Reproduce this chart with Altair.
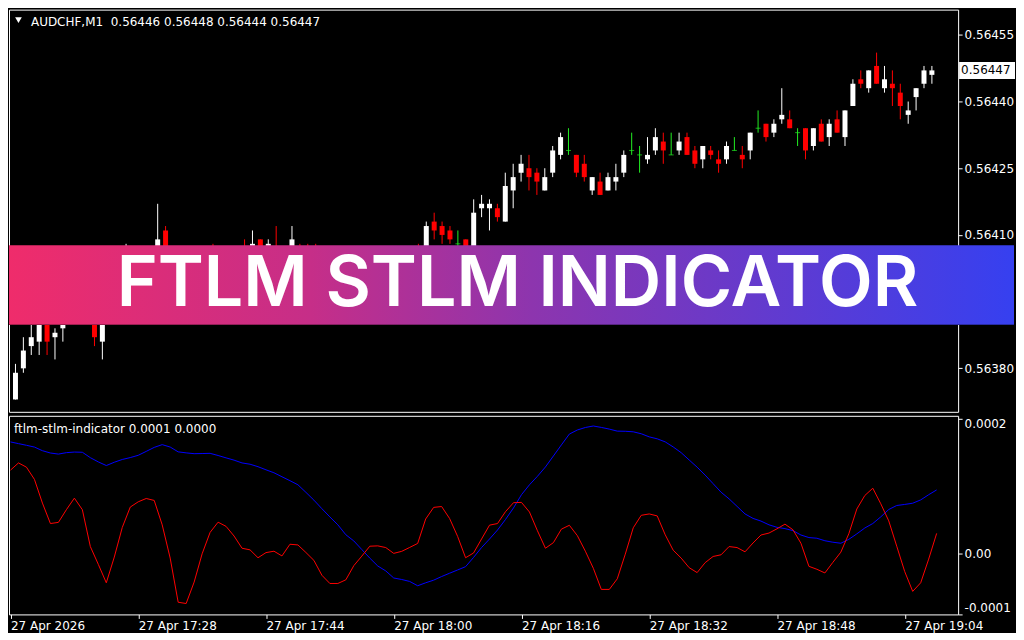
import json
import altair as alt
import pandas as pd

# ---------------- data ----------------
SYMBOL = "AUDCHF,M1"
INDICATOR_NAME = "ftlm-stlm-indicator"
BANNER_TEXT = "FTLM STLM INDICATOR"
TIME_TICKS = [0, 16, 32, 48, 64, 80, 96, 112]
TIME_LABELS = ["27 Apr 2026", "27 Apr 17:28", "27 Apr 17:44", "27 Apr 18:00",
               "27 Apr 18:16", "27 Apr 18:32", "27 Apr 18:48", "27 Apr 19:04"]
PRICE_TICKS = [0.56455, 0.56440, 0.56425, 0.56410, 0.56395, 0.56380]

OPEN = [
    0.56373, 0.56380, 0.56385, 0.56386, 0.56391, 0.56387, 0.56389, 0.56390, 0.56395, 0.56398,
    0.56393, 0.56386, 0.56392, 0.56396, 0.56400, 0.56405, 0.56402, 0.56404, 0.56401, 0.56411,
    0.56404, 0.56399, 0.56396, 0.56398, 0.56402, 0.56405, 0.56402, 0.56405, 0.56403, 0.56404,
    0.56400, 0.56409, 0.56403, 0.56406, 0.56403, 0.56404, 0.56407, 0.56405, 0.56402, 0.56398,
    0.56395, 0.56393, 0.56395, 0.56398, 0.56400, 0.56402, 0.56401, 0.56402, 0.56400, 0.56401,
    0.56403, 0.56405, 0.56403, 0.56413, 0.56412, 0.56411, 0.56408, 0.56409, 0.56405, 0.56416,
    0.56416, 0.56416, 0.56413, 0.56420, 0.56424, 0.56425, 0.56424, 0.56420, 0.56424, 0.56428,
    0.56429, 0.56428, 0.56426, 0.56420, 0.56422, 0.56420, 0.56422, 0.56424, 0.56429, 0.56428,
    0.56427, 0.56429, 0.56431, 0.56428, 0.56429, 0.56432, 0.56429, 0.56427, 0.56429, 0.56427,
    0.56427, 0.56429, 0.56428, 0.56429, 0.56434, 0.56435, 0.56433, 0.56436, 0.56436, 0.56433,
    0.56434, 0.56430, 0.56435, 0.56432, 0.56436, 0.56432, 0.56439, 0.56445, 0.56443, 0.56448,
    0.56443, 0.56444, 0.56442, 0.56437, 0.56441, 0.56444, 0.56446]
HIGH = [
    0.56381, 0.56387, 0.56390, 0.56393, 0.56393, 0.56389, 0.56391, 0.56397, 0.56400, 0.56399,
    0.56394, 0.56394, 0.56398, 0.56402, 0.56408, 0.56406, 0.56406, 0.56405, 0.56417, 0.56412,
    0.56405, 0.56401, 0.56400, 0.56403, 0.56406, 0.56408, 0.56406, 0.56406, 0.56404, 0.56409,
    0.56411, 0.56409, 0.56409, 0.56412, 0.56406, 0.56412, 0.56408, 0.56408, 0.56408, 0.56399,
    0.56397, 0.56396, 0.56399, 0.56401, 0.56403, 0.56404, 0.56404, 0.56403, 0.56402, 0.56404,
    0.56405, 0.56408, 0.56413, 0.56415, 0.56413, 0.56412, 0.56411, 0.56409, 0.56418, 0.56419,
    0.56418, 0.56417, 0.56424, 0.56426, 0.56428, 0.56428, 0.56425, 0.56425, 0.56430, 0.56433,
    0.56434, 0.56428, 0.56428, 0.56423, 0.56424, 0.56424, 0.56426, 0.56429, 0.56433, 0.56430,
    0.56432, 0.56434, 0.56433, 0.56433, 0.56433, 0.56433, 0.56430, 0.56430, 0.56430, 0.56429,
    0.56431, 0.56432, 0.56430, 0.56433, 0.56438, 0.56435, 0.56436, 0.56443, 0.56438, 0.56434,
    0.56434, 0.56434, 0.56436, 0.56436, 0.56438, 0.56438, 0.56445, 0.56447, 0.56447, 0.56451,
    0.56448, 0.56447, 0.56444, 0.56440, 0.56443, 0.56448, 0.56448]
LOW = [
    0.56373, 0.56379, 0.56383, 0.56383, 0.56383, 0.56382, 0.56386, 0.56390, 0.56393, 0.56392,
    0.56385, 0.56382, 0.56391, 0.56394, 0.56398, 0.56400, 0.56400, 0.56399, 0.56400, 0.56402,
    0.56397, 0.56393, 0.56394, 0.56397, 0.56401, 0.56401, 0.56400, 0.56401, 0.56399, 0.56399,
    0.56399, 0.56402, 0.56402, 0.56401, 0.56401, 0.56403, 0.56402, 0.56400, 0.56397, 0.56393,
    0.56391, 0.56391, 0.56394, 0.56396, 0.56399, 0.56399, 0.56400, 0.56399, 0.56398, 0.56400,
    0.56402, 0.56402, 0.56402, 0.56409, 0.56408, 0.56408, 0.56406, 0.56404, 0.56404, 0.56414,
    0.56411, 0.56413, 0.56413, 0.56416, 0.56422, 0.56420, 0.56419, 0.56420, 0.56423, 0.56427,
    0.56428, 0.56423, 0.56422, 0.56419, 0.56419, 0.56420, 0.56420, 0.56423, 0.56428, 0.56424,
    0.56426, 0.56428, 0.56426, 0.56428, 0.56428, 0.56428, 0.56425, 0.56425, 0.56427, 0.56424,
    0.56426, 0.56429, 0.56425, 0.56427, 0.56433, 0.56431, 0.56432, 0.56435, 0.56434, 0.56430,
    0.56427, 0.56429, 0.56431, 0.56430, 0.56433, 0.56430, 0.56439, 0.56443, 0.56442, 0.56444,
    0.56442, 0.56439, 0.56436, 0.56435, 0.56438, 0.56443, 0.56444]
CLOSE = [
    0.56379, 0.56384, 0.56387, 0.56391, 0.56386, 0.56388, 0.56390, 0.56395, 0.56398, 0.56394,
    0.56387, 0.56392, 0.56396, 0.56400, 0.56405, 0.56402, 0.56404, 0.56401, 0.56409, 0.56404,
    0.56399, 0.56396, 0.56398, 0.56402, 0.56404, 0.56402, 0.56405, 0.56403, 0.56401, 0.56400,
    0.56408, 0.56403, 0.56408, 0.56403, 0.56404, 0.56409, 0.56404, 0.56401, 0.56398, 0.56395,
    0.56393, 0.56395, 0.56398, 0.56400, 0.56402, 0.56401, 0.56402, 0.56400, 0.56401, 0.56403,
    0.56404, 0.56403, 0.56412, 0.56411, 0.56410, 0.56409, 0.56408, 0.56405, 0.56415, 0.56417,
    0.56417, 0.56414, 0.56421, 0.56423, 0.56426, 0.56423, 0.56422, 0.56423, 0.56429, 0.56432,
    0.56429, 0.56424, 0.56423, 0.56423, 0.56419, 0.56423, 0.56423, 0.56428, 0.56429, 0.56428,
    0.56428, 0.56432, 0.56429, 0.56428, 0.56431, 0.56428, 0.56426, 0.56430, 0.56428, 0.56426,
    0.56430, 0.56429, 0.56427, 0.56433, 0.56434, 0.56432, 0.56435, 0.56437, 0.56434, 0.56433,
    0.56429, 0.56434, 0.56431, 0.56435, 0.56433, 0.56438, 0.56444, 0.56444, 0.56447, 0.56444,
    0.56445, 0.56443, 0.56439, 0.56438, 0.56443, 0.56447, 0.56447]

BLUE = [
    1.658e-4, 1.633e-4, 1.608e-4, 1.582e-4, 1.528e-4, 1.494e-4, 1.478e-4, 1.499e-4, 1.508e-4, 1.505e-4,
    1.425e-4, 1.362e-4, 1.308e-4, 1.357e-4, 1.398e-4, 1.426e-4, 1.460e-4, 1.518e-4, 1.577e-4, 1.618e-4,
    1.582e-4, 1.511e-4, 1.496e-4, 1.484e-4, 1.486e-4, 1.489e-4, 1.457e-4, 1.422e-4, 1.388e-4, 1.347e-4,
    1.328e-4, 1.291e-4, 1.245e-4, 1.201e-4, 1.142e-4, 1.084e-4, 1.023e-4, 0.911e-4, 0.796e-4, 0.669e-4,
    0.547e-4, 0.430e-4, 0.283e-4, 0.191e-4, 0.064e-4, -0.063e-4, -0.180e-4, -0.253e-4, -0.358e-4, -0.380e-4,
    -0.409e-4, -0.473e-4, -0.429e-4, -0.390e-4, -0.336e-4, -0.287e-4, -0.239e-4, -0.190e-4, -0.053e-4, 0.093e-4,
    0.220e-4, 0.353e-4, 0.509e-4, 0.680e-4, 0.876e-4, 1.023e-4, 1.149e-4, 1.287e-4, 1.450e-4, 1.614e-4,
    1.775e-4, 1.835e-4, 1.872e-4, 1.894e-4, 1.873e-4, 1.848e-4, 1.818e-4, 1.816e-4, 1.808e-4, 1.779e-4,
    1.733e-4, 1.704e-4, 1.659e-4, 1.584e-4, 1.499e-4, 1.391e-4, 1.284e-4, 1.167e-4, 1.040e-4, 0.913e-4,
    0.815e-4, 0.703e-4, 0.591e-4, 0.525e-4, 0.485e-4, 0.430e-4, 0.393e-4, 0.374e-4, 0.344e-4, 0.279e-4,
    0.241e-4, 0.231e-4, 0.194e-4, 0.172e-4, 0.157e-4, 0.215e-4, 0.296e-4, 0.383e-4, 0.449e-4, 0.548e-4,
    0.657e-4, 0.716e-4, 0.732e-4, 0.750e-4, 0.799e-4, 0.876e-4, 0.947e-4]
RED = [
    1.240e-4, 1.347e-4, 1.284e-4, 1.103e-4, 0.752e-4, 0.449e-4, 0.466e-4, 0.654e-4, 0.825e-4, 0.654e-4,
    0.108e-4, -0.156e-4, -0.429e-4, -0.048e-4, 0.391e-4, 0.693e-4, 0.771e-4, 0.820e-4, 0.791e-4, 0.430e-4,
    -0.063e-4, -0.717e-4, -0.736e-4, -0.419e-4, 0.000e-4, 0.318e-4, 0.469e-4, 0.407e-4, 0.264e-4, 0.083e-4,
    0.059e-4, -0.058e-4, 0.018e-4, 0.039e-4, -0.031e-4, 0.142e-4, 0.132e-4, 0.020e-4, -0.097e-4, -0.317e-4,
    -0.439e-4, -0.439e-4, -0.385e-4, -0.175e-4, -0.034e-4, 0.113e-4, 0.118e-4, 0.093e-4, 0.007e-4, 0.037e-4,
    0.095e-4, 0.154e-4, 0.516e-4, 0.688e-4, 0.701e-4, 0.523e-4, 0.259e-4, -0.058e-4, 0.013e-4, 0.220e-4,
    0.425e-4, 0.449e-4, 0.625e-4, 0.758e-4, 0.762e-4, 0.620e-4, 0.342e-4, 0.083e-4, 0.166e-4, 0.366e-4,
    0.423e-4, 0.269e-4, 0.039e-4, -0.214e-4, -0.527e-4, -0.527e-4, -0.370e-4, -0.005e-4, 0.386e-4, 0.571e-4,
    0.591e-4, 0.562e-4, 0.283e-4, 0.054e-4, -0.063e-4, -0.205e-4, -0.278e-4, -0.131e-4, -0.039e-4, -0.014e-4,
    0.108e-4, 0.093e-4, 0.030e-4, 0.161e-4, 0.279e-4, 0.308e-4, 0.371e-4, 0.440e-4, 0.357e-4, 0.157e-4,
    -0.185e-4, -0.229e-4, -0.283e-4, -0.126e-4, 0.025e-4, 0.298e-4, 0.664e-4, 0.864e-4, 0.972e-4, 0.742e-4,
    0.488e-4, 0.113e-4, -0.263e-4, -0.556e-4, -0.429e-4, -0.078e-4, 0.303e-4]

# ---------------- layout / style ----------------
W = 951
H_MAIN = 403
H_IND = 199
X_DOMAIN = [-0.1875, 118.6875]
P_DOMAIN = [0.5637022, 0.5646067]
IND_DOMAIN = [-0.8975e-4, 2.045e-4]
IND_TICKS = [-0.8975e-4, 0.0, 2.0e-4]
FONT = "DejaVu Sans"

n = len(OPEN)
df = pd.DataFrame({"i": list(range(n)), "open": OPEN, "high": HIGH,
                   "low": LOW, "close": CLOSE})
df["dir"] = ["up" if c > o else ("down" if c < o else "doji")
             for o, c in zip(OPEN, CLOSE)]

ind = pd.DataFrame({"i": list(range(n)), "blue": BLUE, "red": RED})

xs = alt.Scale(domain=X_DOMAIN, nice=False, zero=False)
ys = alt.Scale(domain=P_DOMAIN, nice=False, zero=False)
col = alt.Color("dir:N", legend=None,
                scale=alt.Scale(domain=["up", "down", "doji"],
                                range=["#ffffff", "#ff0000", "#22ee22"]))


def price_axis():
    return alt.Axis(orient="right", values=PRICE_TICKS, format=".5f",
                    title=None, grid=False, domain=False, tickSize=4,
                    tickColor="white", labelColor="white", labelFont=FONT,
                    labelFontSize=12, labelPadding=2, labelFlush=False)


base = alt.Chart(df)
wicks = base.mark_rule(strokeWidth=1).encode(
    x=alt.X("i:Q", scale=xs, axis=None),
    y=alt.Y("low:Q", scale=ys, axis=price_axis()),
    y2="high:Q",
    color=col,
)
bodies = base.transform_filter("datum.open != datum.close").mark_bar(size=5).encode(
    x=alt.X("i:Q", scale=xs, axis=None),
    y=alt.Y("open:Q", scale=ys, axis=price_axis()),
    y2="close:Q",
    color=col,
)
dojis = base.transform_filter("datum.open == datum.close").mark_tick(
    orient="horizontal", size=5, thickness=1).encode(
    x=alt.X("i:Q", scale=xs, axis=None),
    y=alt.Y("open:Q", scale=ys, axis=price_axis()),
    color=col,
)

last = pd.DataFrame({"price": [CLOSE[-1]], "label": [f"{CLOSE[-1]:.5f}"]})
box = alt.Chart(last).mark_point(
    shape="M-1,-0.3036L1,-0.3036L1,0.3036L-1,0.3036Z", size=3136,
    filled=True, opacity=1, color="white", strokeWidth=0).encode(
    x=alt.value(980), y=alt.Y("price:Q", scale=ys, axis=price_axis()))
box_txt = alt.Chart(last).mark_text(
    align="left", baseline="middle", font=FONT, fontSize=12, color="black").encode(
    x=alt.value(954), y=alt.Y("price:Q", scale=ys, axis=price_axis()), text="label:N")

one = pd.DataFrame({"k": [0]})
header_tri = alt.Chart(one).mark_point(
    shape="triangle-down", filled=True, color="white", opacity=1, size=45).encode(
    x=alt.value(9.5), y=alt.value(10.5))
header = alt.Chart(one).mark_text(
    align="left", baseline="middle", font=FONT, fontSize=12, color="white").encode(
    x=alt.value(22), y=alt.value(12),
    text=alt.value(f"{SYMBOL}\u00a0\u00a0{OPEN[-1]:.5f} {HIGH[-1]:.5f} "
                   f"{LOW[-1]:.5f} {CLOSE[-1]:.5f}"))

banner = alt.Chart(one).mark_rect(
    color=alt.LinearGradient(
        gradient="linear", x1=0, x2=1, y1=0, y2=0,
        stops=[alt.GradientStop(color="#ef2c6b", offset=0),
               alt.GradientStop(color="#c62e88", offset=0.3),
               alt.GradientStop(color="#8d35ae", offset=0.52),
               alt.GradientStop(color="#3640f0", offset=1)])).encode(
    x=alt.value(0), x2=alt.value(1007), y=alt.value(236), y2=alt.value(316))
banner_edge = alt.Chart(one).mark_rect(color="black", opacity=0.3).encode(
    x=alt.value(0), x2=alt.value(1007), y=alt.value(315), y2=alt.value(316))
banner_txt = alt.Chart(one).mark_text(
    align="center", baseline="alphabetic", font="Inter", fontWeight=600,
    fontSize=70, color="white").encode(
    x=alt.value(509.5), y=alt.value(297), text=alt.value(BANNER_TEXT))

main = alt.layer(wicks, bodies, dojis, box, box_txt, header_tri, header,
                 banner, banner_edge, banner_txt).properties(width=W, height=H_MAIN)

# ---------------- indicator panel ----------------
ixs = alt.Scale(domain=X_DOMAIN, nice=False, zero=False)
iys = alt.Scale(domain=IND_DOMAIN, nice=False, zero=False)
label_expr = f"{json.dumps(TIME_LABELS)}[indexof({json.dumps(TIME_TICKS)}, datum.value)]"


def x_axis():
    return alt.Axis(values=TIME_TICKS, labelExpr=label_expr, title=None, grid=False,
                    domain=False, tickSize=4, tickColor="white", labelColor="white",
                    labelFont=FONT, labelFontSize=12, labelAlign="left",
                    labelPadding=2, labelFlush=False, labelOverlap=False)


def ind_axis():
    return alt.Axis(orient="right", values=IND_TICKS, title=None, grid=False,
                    domain=False, tickSize=4, tickColor="white", labelColor="white",
                    labelFont=FONT, labelFontSize=12, labelPadding=2, labelFlush=5,
                    labelExpr="datum.value == 0 ? '0.00' : replace(format(datum.value, '.4f'), '\u2212', '-')")


blue_line = alt.Chart(ind).mark_line(color="#0000ff", strokeWidth=1).encode(
    x=alt.X("i:Q", scale=ixs, axis=x_axis()),
    y=alt.Y("blue:Q", scale=iys, axis=ind_axis()))
red_line = alt.Chart(ind).mark_line(color="#ff0000", strokeWidth=1).encode(
    x=alt.X("i:Q", scale=ixs, axis=x_axis()),
    y=alt.Y("red:Q", scale=iys, axis=ind_axis()))
ind_header = alt.Chart(one).mark_text(
    align="left", baseline="middle", font=FONT, fontSize=12, color="white").encode(
    x=alt.value(5), y=alt.value(13),
    text=alt.value(f"{INDICATOR_NAME} {BLUE[-1]:.4f} {RED[-1]:.4f}"))

indicator = alt.layer(blue_line, red_line, ind_header).properties(width=W, height=H_IND)

chart = alt.vconcat(main, indicator, spacing=2).configure(
    background="black", padding=0
).configure_view(stroke="white", strokeWidth=1)

chart.save("out.html", embed_options={"renderer": "svg", "actions": False})
